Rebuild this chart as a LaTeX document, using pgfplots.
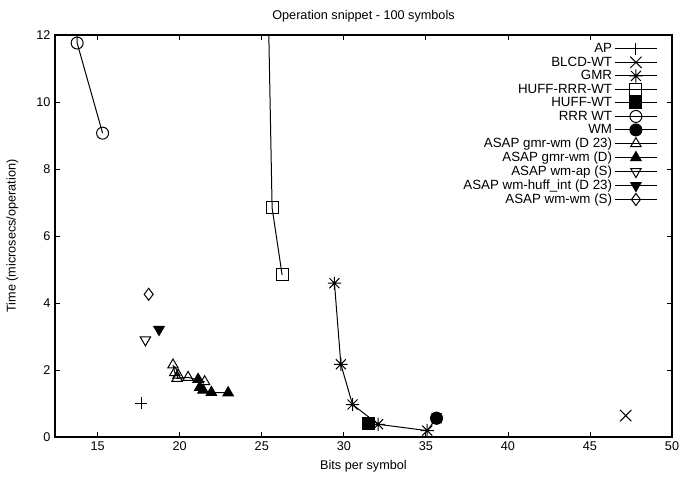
\documentclass[border=0pt]{standalone}
\usepackage{fontspec}
\setmainfont{Liberation Sans}
\usepackage{pgfplots}
\pgfplotsset{compat=1.18}

% gnuplot style point type 3: plus and cross together
\pgfdeclareplotmark{gpstar}{%
  \pgfpathmoveto{\pgfqpoint{-\pgfplotmarksize}{0pt}}%
  \pgfpathlineto{\pgfqpoint{\pgfplotmarksize}{0pt}}%
  \pgfpathmoveto{\pgfqpoint{0pt}{-\pgfplotmarksize}}%
  \pgfpathlineto{\pgfqpoint{0pt}{\pgfplotmarksize}}%
  \pgfpathmoveto{\pgfqpoint{-0.75\pgfplotmarksize}{-0.75\pgfplotmarksize}}%
  \pgfpathlineto{\pgfqpoint{0.75\pgfplotmarksize}{0.75\pgfplotmarksize}}%
  \pgfpathmoveto{\pgfqpoint{-0.75\pgfplotmarksize}{0.75\pgfplotmarksize}}%
  \pgfpathlineto{\pgfqpoint{0.75\pgfplotmarksize}{-0.75\pgfplotmarksize}}%
  \pgfusepathqstroke}

\begin{document}
\fontsize{9.5}{11}\selectfont
\begin{tikzpicture}
\useasboundingbox (-41.25pt,-33pt) rectangle (472.5pt,327.75pt);
\begin{axis}[
  scale only axis,
  width=462.75pt,height=301.5pt,
  at={(0,0)},anchor=south west,
  xmin=12.4,xmax=50,ymin=0,ymax=12,
  xtick={15,20,...,50},ytick={0,2,...,12},
  tick align=inside,major tick length=4pt,
  axis line style={line width=0.8pt},
  every tick/.style={black,line width=0.6pt},
  /pgf/number format/assume math mode=true,
  ticklabel style={font=\fontsize{9.5}{11}\selectfont},
  xlabel={Bits per symbol},
  ylabel={Time (microsecs/operation)},
  xlabel shift=1pt,
  ylabel shift=7pt,
  title={Operation snippet - 100 symbols},
  every axis plot/.append style={black,line width=0.75pt,mark size=4.5pt,mark options={solid}},
  legend plot pos=right,
  legend cell align=right,
  legend style={draw=none,fill=none,at={(1,1)},anchor=north east,
    xshift=-8pt,yshift=-2pt,row sep=-2.2pt,
    font=\fontsize{10}{11.5}\selectfont},
  legend image code/.code={%
    \draw[mark repeat=2,mark phase=2,#1] plot coordinates {(0pt,0pt) (15.5pt,0pt) (31pt,0pt)};},
]
\addplot[mark=+] coordinates {(17.66,1.01)};
\addlegendentry{AP}
\addplot[mark=x,mark size=6pt] coordinates {(47.18,0.64)};
\addlegendentry{BLCD-WT}
\addplot[mark=gpstar,mark size=5pt] coordinates {(29.43,4.59) (29.82,2.17) (30.53,0.97) (32.09,0.38) (35.08,0.19) (35.65,0.56)};
\addlegendentry{GMR}
\addplot[mark=square] coordinates {(25.12,20) (25.63,6.84) (26.24,4.84)};
\addlegendentry{HUFF-RRR-WT}
\addplot[mark=square*] coordinates {(31.48,0.40)};
\addlegendentry{HUFF-WT}
\addplot[mark=o] coordinates {(13.75,20) (13.75,11.76) (15.3,9.07)};
\addlegendentry{RRR WT}
\addplot[mark=*] coordinates {(35.65,0.56)};
\addlegendentry{WM}
\addplot[mark=triangle] coordinates {(19.59,2.15) (19.70,1.92) (19.90,1.85) (19.84,1.75) (20.51,1.78) (21.52,1.65)};
\addlegendentry{ASAP gmr-wm (D 23)}
\addplot[mark=triangle*] coordinates {(21.12,1.72) (21.22,1.48) (21.42,1.40) (21.93,1.33) (22.95,1.32)};
\addlegendentry{ASAP gmr-wm (D)}
\addplot[mark=triangle,mark options={rotate=180}] coordinates {(17.91,2.90)};
\addlegendentry{ASAP wm-ap (S)}
\addplot[mark=triangle*,mark options={rotate=180}] coordinates {(18.74,3.21)};
\addlegendentry{ASAP wm-huff\_int (D 23)}
\addplot[mark=diamond] coordinates {(18.11,4.26)};
\addlegendentry{ASAP wm-wm (S)}
\end{axis}
\end{tikzpicture}
\end{document}
